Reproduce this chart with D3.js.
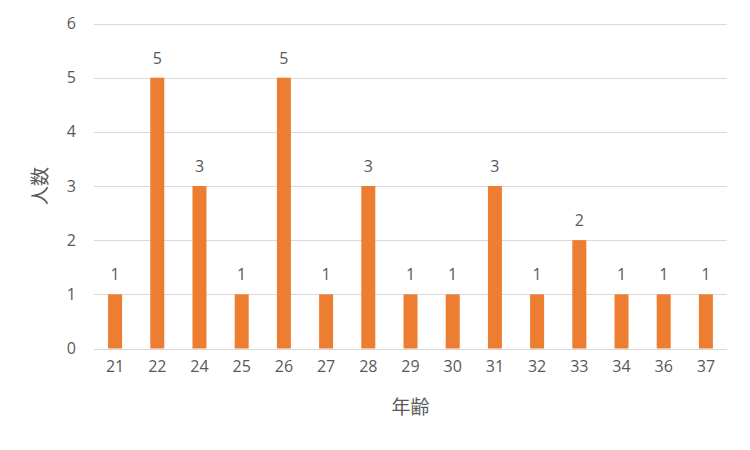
<!DOCTYPE html>
<html><head><meta charset="utf-8">
<script src="https://cdn.jsdelivr.net/npm/d3@7"></script>
<style>body{margin:0;background:#fff}svg{display:block}text{font-family:"Open Sans","Noto Sans",sans-serif;fill:#595959}</style>
</head><body>
<svg id="c" width="750" height="450"></svg>
<script>
const categories = ["21","22","24","25","26","27","28","29","30","31","32","33","34","36","37"];
const values = [1,5,3,1,5,1,3,1,1,3,1,2,1,1,1];
const yTicks = [0,1,2,3,4,5,6];
const xTitle = "年齢";
const yTitle = "人数";

const svg = d3.select("#c");
const pLeft = 94, pRight = 727, pTop = 23.5, pBottom = 348.5;
const x = d3.scaleBand().domain(categories).range([pLeft, pRight]).paddingInner(0.667).paddingOuter(0.333);
const y = d3.scaleLinear().domain([0, 6]).range([pBottom, pTop]);

const g = svg.append("g");
g.selectAll("line.grid").data(yTicks).join("line")
  .attr("x1", pLeft).attr("x2", pRight)
  .attr("y1", d => Math.round(y(d)) + 0.5).attr("y2", d => Math.round(y(d)) + 0.5)
  .attr("stroke", "#D9D9D9").attr("stroke-width", 1);

const yAxis = d3.axisLeft(y).tickValues(yTicks).tickSize(0).tickPadding(18).tickFormat(d3.format("d"));
const ya = svg.append("g").attr("transform", `translate(${pLeft},0)`).call(yAxis);
ya.select(".domain").remove();
ya.selectAll("text").style("font-size","16px").attr("fill","#595959");

const xAxis = d3.axisBottom(x).tickSize(0).tickPadding(12);
const xa = svg.append("g").attr("transform", `translate(0,${pBottom})`).call(xAxis);
xa.select(".domain").remove();
xa.selectAll("text").style("font-size","16px").attr("fill","#595959");

const bw = 14;
svg.selectAll("rect.bar").data(values).join("rect")
  .attr("x", (d,i) => x(categories[i]) + x.bandwidth()/2 - bw/2)
  .attr("width", bw)
  .attr("y", d => y(d))
  .attr("height", d => y(0) - y(d))
  .attr("fill", "#ED7D31");

svg.selectAll("text.lbl").data(values).join("text")
  .attr("x", (d,i) => x(categories[i]) + x.bandwidth()/2)
  .attr("y", d => y(d) - 14)
  .attr("text-anchor","middle")
  .style("font-size","16px")
  .text(d => d);

svg.append("text").attr("x", (pLeft+pRight)/2).attr("y", 414)
  .attr("text-anchor","middle").style("font-size","19px")
  .style("font-family","'Noto Sans CJK JP',sans-serif").text(xTitle);
svg.append("text").attr("transform", `translate(47,${(pTop+pBottom)/2}) rotate(-90)`)
  .attr("text-anchor","middle").style("font-size","19px")
  .style("font-family","'Noto Sans CJK JP',sans-serif").text(yTitle);
</script>
</body></html>
